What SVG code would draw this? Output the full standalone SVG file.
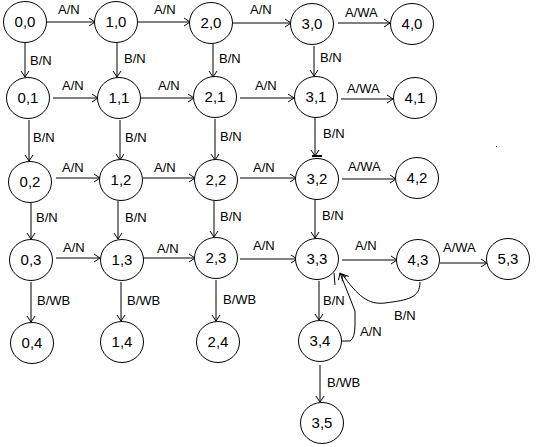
<svg xmlns="http://www.w3.org/2000/svg" width="536" height="447" viewBox="0 0 536 447">
<defs>
<style>
.n ellipse{fill:#fff;stroke:#000;stroke-width:1}
.n text{font-family:"Liberation Sans",Arial,sans-serif;font-size:15px;fill:#000;text-anchor:middle}
.e line,.e path{stroke:#000;stroke-width:1;fill:none}
.lbl{font-family:"Liberation Sans",Arial,sans-serif;font-size:13px;fill:#000}
</style>
<marker id="arr" markerWidth="10" markerHeight="10" refX="8" refY="5" orient="auto" markerUnits="userSpaceOnUse"><path d="M2,1 L8,5 L2,9" fill="none" stroke="#000" stroke-width="1"/></marker>
</defs>
<rect width="536" height="447" fill="#fff"/>
<g id="connectors" class="e">
<line x1="47" y1="22" x2="95" y2="22" marker-end="url(#arr)"/>
<line x1="138" y1="22" x2="190" y2="22" marker-end="url(#arr)"/>
<line x1="233" y1="23" x2="291" y2="23" marker-end="url(#arr)"/>
<line x1="338" y1="23" x2="390" y2="23" marker-end="url(#arr)"/>
<line x1="53" y1="98" x2="98" y2="98" marker-end="url(#arr)"/>
<line x1="141" y1="98" x2="194" y2="98" marker-end="url(#arr)"/>
<line x1="240" y1="98" x2="294" y2="98" marker-end="url(#arr)"/>
<line x1="341" y1="99" x2="393" y2="99" marker-end="url(#arr)"/>
<line x1="56" y1="178" x2="100" y2="178" marker-end="url(#arr)"/>
<line x1="143" y1="178" x2="195" y2="178" marker-end="url(#arr)"/>
<line x1="240" y1="178" x2="296" y2="178" marker-end="url(#arr)"/>
<line x1="342" y1="179" x2="396" y2="179" marker-end="url(#arr)"/>
<line x1="56" y1="258" x2="100" y2="258" marker-end="url(#arr)"/>
<line x1="143" y1="258" x2="195" y2="258" marker-end="url(#arr)"/>
<line x1="240" y1="259" x2="297" y2="259" marker-end="url(#arr)"/>
<line x1="342" y1="260" x2="397" y2="260" marker-end="url(#arr)"/>
<line x1="440" y1="263" x2="487" y2="263" marker-end="url(#arr)"/>
<line x1="25" y1="43" x2="25" y2="77" marker-end="url(#arr)"/>
<line x1="117" y1="43" x2="117" y2="77" marker-end="url(#arr)"/>
<line x1="213" y1="44" x2="213" y2="77" marker-end="url(#arr)"/>
<line x1="314" y1="46" x2="314" y2="76" marker-end="url(#arr)"/>
<line x1="29" y1="120" x2="29" y2="161" marker-end="url(#arr)"/>
<line x1="120" y1="120" x2="120" y2="160" marker-end="url(#arr)"/>
<line x1="215" y1="119" x2="215" y2="160" marker-end="url(#arr)"/>
<line x1="315" y1="118" x2="315" y2="156" marker-end="url(#arr)"/>
<line x1="312" y1="156" x2="322" y2="156" style="stroke-width:2"/>
<line x1="31" y1="203" x2="31" y2="239" marker-end="url(#arr)"/>
<line x1="118" y1="201" x2="118" y2="239" marker-end="url(#arr)"/>
<line x1="214" y1="201" x2="214" y2="237" marker-end="url(#arr)"/>
<line x1="315" y1="200" x2="315" y2="238" marker-end="url(#arr)"/>
<line x1="31" y1="282" x2="31" y2="322" marker-end="url(#arr)"/>
<line x1="121" y1="282" x2="121" y2="321" marker-end="url(#arr)"/>
<line x1="216" y1="280" x2="216" y2="321" marker-end="url(#arr)"/>
<line x1="319" y1="281" x2="319" y2="320" marker-end="url(#arr)"/>
<line x1="320" y1="365" x2="320" y2="402" marker-end="url(#arr)"/>
<path d="M341,341 L350,341 Q355,338 355,325 L355,311 L340,273" marker-end="url(#arr)"/>
<path d="M420,282 C420,298 408,300 385,303 C368,305 358,296 342,274" marker-end="url(#arr)"/>
<line x1="334" y1="273" x2="335" y2="285"/>
</g>
<g id="labels" class="lbl">
<text x="58" y="14">A/N</text>
<text x="154" y="14">A/N</text>
<text x="250" y="14">A/N</text>
<text x="345" y="17">A/WA</text>
<text x="30" y="65">B/N</text>
<text x="124" y="63">B/N</text>
<text x="219" y="63">B/N</text>
<text x="320" y="62">B/N</text>
<text x="62" y="90">A/N</text>
<text x="158" y="90">A/N</text>
<text x="255" y="90">A/N</text>
<text x="347" y="93">A/WA</text>
<text x="33" y="142">B/N</text>
<text x="125" y="142">B/N</text>
<text x="220" y="141">B/N</text>
<text x="323" y="138">B/N</text>
<text x="62" y="172">A/N</text>
<text x="154" y="172">A/N</text>
<text x="253" y="172">A/N</text>
<text x="348" y="171">A/WA</text>
<text x="36" y="222">B/N</text>
<text x="125" y="222">B/N</text>
<text x="220" y="221">B/N</text>
<text x="322" y="220">B/N</text>
<text x="63" y="252">A/N</text>
<text x="157" y="253">A/N</text>
<text x="253" y="250">A/N</text>
<text x="355" y="250">A/N</text>
<text x="443" y="252">A/WA</text>
<text x="37" y="305">B/WB</text>
<text x="127" y="305">B/WB</text>
<text x="223" y="304">B/WB</text>
<text x="323" y="305">B/N</text>
<text x="327" y="387">B/WB</text>
<text x="394" y="320">B/N</text>
<text x="360" y="336">A/N</text>
</g>
<g id="n00" class="n"><ellipse cx="25" cy="22" rx="21.5" ry="20.5"/><text x="25" y="27">0,0</text></g>
<g id="n10" class="n"><ellipse cx="116" cy="22" rx="21.5" ry="20.5"/><text x="116" y="27">1,0</text></g>
<g id="n20" class="n"><ellipse cx="211" cy="23" rx="21.5" ry="20.5"/><text x="211" y="28">2,0</text></g>
<g id="n30" class="n"><ellipse cx="312" cy="24" rx="21.5" ry="20.5"/><text x="312" y="29">3,0</text></g>
<g id="n40" class="n"><ellipse cx="412" cy="24" rx="21.5" ry="20.5"/><text x="412" y="29">4,0</text></g>
<g id="n01" class="n"><ellipse cx="28" cy="98" rx="21.5" ry="20.5"/><text x="28" y="103">0,1</text></g>
<g id="n11" class="n"><ellipse cx="119" cy="98" rx="21.5" ry="20.5"/><text x="119" y="103">1,1</text></g>
<g id="n21" class="n"><ellipse cx="215" cy="97" rx="21.5" ry="20.5"/><text x="215" y="102">2,1</text></g>
<g id="n31" class="n"><ellipse cx="316" cy="97" rx="21.5" ry="20.5"/><text x="316" y="102">3,1</text></g>
<g id="n41" class="n"><ellipse cx="415" cy="98" rx="21.5" ry="20.5"/><text x="415" y="103">4,1</text></g>
<g id="n02" class="n"><ellipse cx="30" cy="182" rx="21.5" ry="20.5"/><text x="30" y="187">0,2</text></g>
<g id="n12" class="n"><ellipse cx="121" cy="180" rx="21.5" ry="20.5"/><text x="121" y="185">1,2</text></g>
<g id="n22" class="n"><ellipse cx="216" cy="180" rx="21.5" ry="20.5"/><text x="216" y="185">2,2</text></g>
<g id="n32" class="n"><ellipse cx="317" cy="179" rx="21.5" ry="20.5"/><text x="317" y="184">3,2</text></g>
<g id="n42" class="n"><ellipse cx="417" cy="178" rx="21.5" ry="20.5"/><text x="417" y="183">4,2</text></g>
<g id="n03" class="n"><ellipse cx="31" cy="260" rx="21.5" ry="20.5"/><text x="31" y="265">0,3</text></g>
<g id="n13" class="n"><ellipse cx="122" cy="260" rx="21.5" ry="20.5"/><text x="122" y="265">1,3</text></g>
<g id="n23" class="n"><ellipse cx="216" cy="258" rx="21.5" ry="20.5"/><text x="216" y="263">2,3</text></g>
<g id="n33" class="n"><ellipse cx="317" cy="259" rx="21.5" ry="20.5"/><text x="317" y="264">3,3</text></g>
<g id="n43" class="n"><ellipse cx="418" cy="260" rx="21.5" ry="20.5"/><text x="418" y="265">4,3</text></g>
<g id="n53" class="n"><ellipse cx="508" cy="259" rx="21.5" ry="20.5"/><text x="508" y="264">5,3</text></g>
<g id="n04" class="n"><ellipse cx="32" cy="343" rx="21.5" ry="20.5"/><text x="32" y="348">0,4</text></g>
<g id="n14" class="n"><ellipse cx="122" cy="342" rx="21.5" ry="20.5"/><text x="122" y="347">1,4</text></g>
<g id="n24" class="n"><ellipse cx="218" cy="342" rx="21.5" ry="20.5"/><text x="218" y="347">2,4</text></g>
<g id="n34" class="n"><ellipse cx="320" cy="341" rx="21.5" ry="20.5"/><text x="320" y="346">3,4</text></g>
<g id="n35" class="n"><ellipse cx="322" cy="423" rx="21.5" ry="20.5"/><text x="322" y="428">3,5</text></g>
<rect x="496" y="146" width="1" height="1" fill="#000"/>
</svg>
